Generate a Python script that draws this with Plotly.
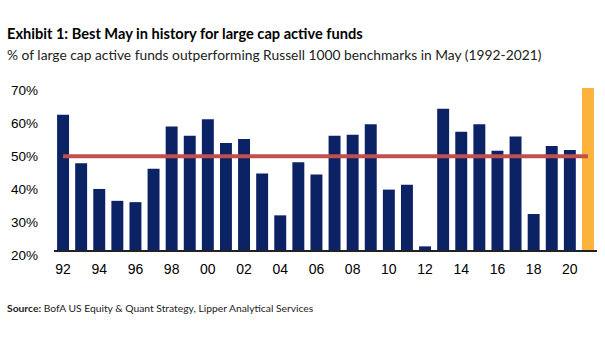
import plotly.graph_objects as go

years = list(range(1992, 2022))
values = [61.0, 46.3, 38.5, 34.9, 34.5, 44.6, 57.4, 54.6, 59.6, 52.4,
          53.6, 43.2, 30.5, 46.6, 42.9, 54.6, 54.9, 58.1, 38.3, 39.8,
          21.1, 62.8, 55.8, 58.1, 50.1, 54.4, 30.9, 51.5, 50.3, 69.1]
average = 48.4
tick_years = list(range(1992, 2021, 2))
tick_labels = [f"{y % 100:02d}" for y in tick_years]
y_ticks = [20, 30, 40, 50, 60, 70]
y_tick_labels = [f"{v}%" for v in y_ticks]

NAVY = "#0B2265"
GOLD = "#FBB33E"
RED = "#C0504D"

colors = [NAVY] * (len(years) - 1) + [GOLD]

arial = "Liberation Sans, Arial, sans-serif"
lato = "Lato, Open Sans, sans-serif"

fig = go.Figure()
fig.add_trace(go.Bar(x=years, y=[v - 20 for v in values], base=20,
                     marker=dict(color=colors, line=dict(width=0)),
                     showlegend=False, hoverinfo="skip"))
fig.add_trace(go.Scatter(x=[years[0], years[-1]], y=[average, average], mode="lines",
                         line=dict(color=RED, width=4), showlegend=False, hoverinfo="skip"))

fig.update_layout(
    width=605, height=341,
    margin=dict(l=54, r=8, t=85, b=91),
    paper_bgcolor="white", plot_bgcolor="white",
    bargap=0.34,
    font=dict(family=arial, size=13, color="#000000"),
    xaxis=dict(range=[1991.5, 2021.5], tickmode="array", tickvals=tick_years, ticktext=tick_labels,
               showgrid=False, zeroline=False, showline=True, linecolor="#222222", linewidth=1.5,
               ticks="", tickfont=dict(family=arial, size=14), ticklabelstandoff=5),
    yaxis=dict(range=[20, 70], tickmode="array", tickvals=y_ticks, ticktext=y_tick_labels,
               showgrid=False, zeroline=False, showline=False, ticks="",
               tickfont=dict(family=arial, size=13.5), ticklabelstandoff=15, ticklabelshift=5),
    annotations=[
        dict(text="<b>Exhibit 1: Best May in history for large cap active funds</b>",
             xref="paper", yref="paper", x=-0.0902, y=1.315, xanchor="left", yanchor="middle",
             showarrow=False, font=dict(family=lato, size=14.6, color="#000000")),
        dict(text="% of large cap active funds outperforming Russell 1000 benchmarks in May (1992-2021)",
             xref="paper", yref="paper", x=-0.0902, y=1.182, xanchor="left", yanchor="middle",
             showarrow=False, font=dict(family=lato, size=13.8, color="#222222")),
        dict(text="<b>Source:</b> BofA US Equity & Quant Strategy, Lipper Analytical Services",
             xref="paper", yref="paper", x=-0.0902, y=-0.3515, xanchor="left", yanchor="middle",
             showarrow=False, font=dict(family=lato, size=10.3, color="#222222")),
    ],
)

fig.write_html("out.html")
